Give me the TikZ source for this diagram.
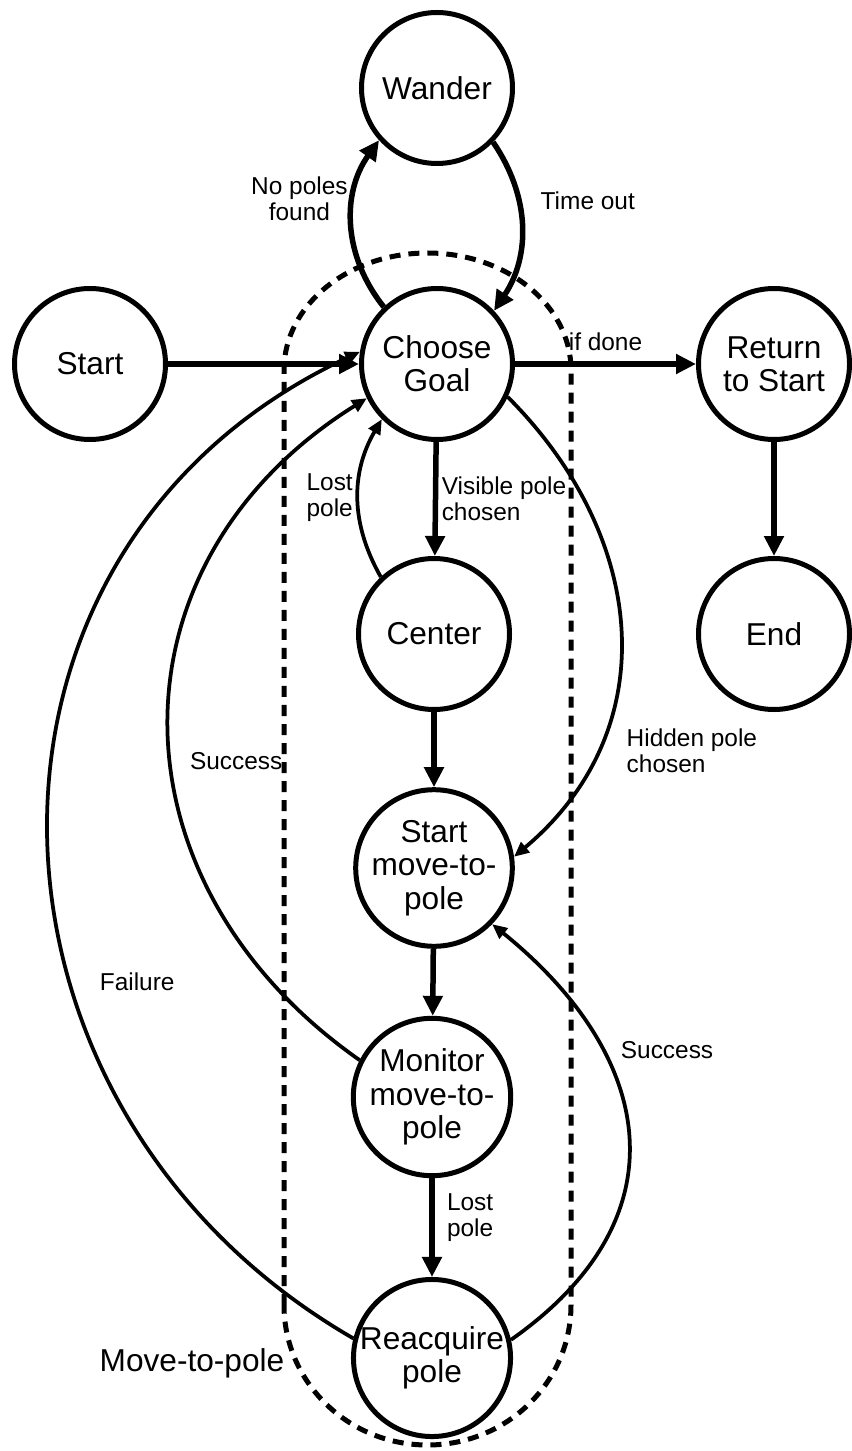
\documentclass[tikz,border=0pt]{standalone}
\usepackage{fontspec}
\setmainfont{Liberation Sans}
\usetikzlibrary{arrows.meta}

\newcommand{\statesize}{\fontsize{18}{19}\selectfont}
\newcommand{\labelsize}{\fontsize{13.9}{15}\selectfont}

\begin{document}
\begin{tikzpicture}
    [state/.style={circle,draw,line width=0.1cm,minimum size=3.02cm,inner sep=0pt,align=center,font=\statesize},
     main/.style={line width=0.11cm,-{Triangle[length=0.4cm,width=0.38cm]}},
     side/.style={line width=0.075cm,-{Triangle[length=0.3cm,width=0.26cm]}},
     lbl/.style={font=\labelsize,align=left,inner sep=2pt},
     group/.style={line width=0.1cm,dash pattern=on 0.22cm off 0.16cm}]

    \useasboundingbox (0,0) rectangle (17.04,-29.02);

    % top states:
    \node (wander) at (8.74, -1.76) [state] {Wander};
    \node (choose) at (8.74, -7.28) [state] {Choose\\Goal};

    % left and right states:
    \node (start) at (1.8, -7.28) [state] {Start};
    \node (return) at (15.48, -7.28) [state] {Return\\to Start};
    \node (finish) at (15.48, -12.68) [state] {End};

    % move-to-pole states:
    \node (center) at (8.68, -12.68) [state] {Center};
    \node (smp) at (8.68, -17.36) [state] {Start\\move-to-\\pole};
    \node (monitor) at (8.64, -21.94) [state] {Monitor\\move-to-\\pole};
    \node (reacq) at (8.64, -27.16) [state] {Reacquire\\pole};

    % group outline:
    \draw [group] (5.68, -26.1) -- (5.68, -7.4)
      arc [start angle=180, end angle=0, x radius=2.87, y radius=2.34]
      -- (11.42, -26.1)
      arc [start angle=0, end angle=-180, x radius=2.87, y radius=2.8] -- cycle;
    \node (grouplabel) at (3.84, -27.26) [font=\statesize] {Move-to-pole};

    % connect states:

    \draw [main] (start) to (choose);
    \draw [main] (choose) to node [lbl, above=4pt] {if done} (return);
    \draw [main] (return) to (finish);

    \draw [main] (choose.133) to [bend left=37]
      node [lbl, pos=0.65, left, align=center] {No poles\\found} (wander.222);
    \draw [main] (wander.316) to [bend left=34]
      node [lbl, pos=0.35, right=9pt] {Time out} (choose.43);

    \draw [main] (choose) to node [lbl, right] {Visible pole\\chosen} (center);
    \draw [side] (center.133) to [bend left=30] node [lbl, left] {Lost\\pole} (choose.225);
    \draw [side] (choose.-25) to [out=-45, in=40, looseness=1.1]
      node [lbl, pos=0.75, right=14pt] {Hidden pole\\chosen} (smp.8);

    \draw [main] (center) to (smp);
    \draw [main] (smp) to (monitor);
    \draw [main] (monitor) to node [lbl, pos=0.4, right=5pt] {Lost\\pole} (reacq);

    \draw [side] (monitor.153) to [out=145, in=212, looseness=1.2]
      node [lbl, pos=0.45, right=8pt] {Success} (choose.206);
    \draw [side] (reacq.166) to [out=150, in=205, looseness=1.2]
      node [lbl, pos=0.37, right=14pt] {Failure} (choose.171);
    \draw [side] (reacq.13) to [out=35, in=-39, looseness=1.3]
      node [lbl, pos=0.7, right=8pt] {Success} (smp.-44);

  \end{tikzpicture}
\end{document}
